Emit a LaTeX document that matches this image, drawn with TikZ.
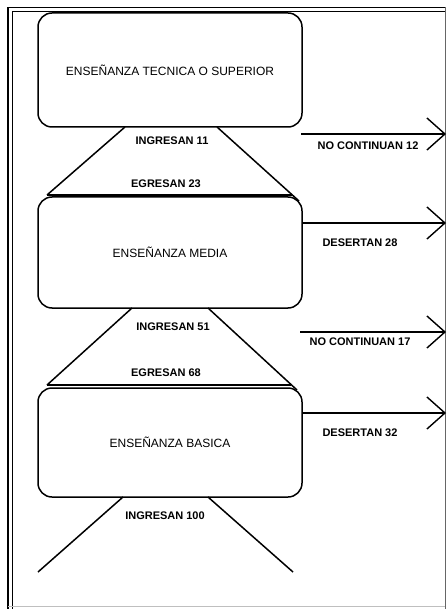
\documentclass[tikz,border=0pt]{standalone}
\usepackage{fontspec}
\setmainfont{Liberation Sans}
\usetikzlibrary{arrows.meta}
\begin{document}
\begin{tikzpicture}[x=1pt,y=-1pt,
  stagebox/.style={draw, rounded corners=14pt, minimum width=264pt, minimum height=#1, inner sep=0pt, line width=1.5pt, font=\fontsize{12}{14}\selectfont},
  lbl/.style={font=\bfseries\fontsize{11}{13}\selectfont, inner sep=0pt},
  trapline/.style={line width=1.5pt},
  flowarrow/.style={line width=1.4pt, -{Straight Barb[length=18pt,width=32pt,line width=1.4pt]}}]
\useasboundingbox (0,0) rectangle (447,609);
% frame
\draw[line width=1.5pt] (8,609) -- (8,7.5) -- (445,7.5);
\draw[line width=0.9pt] (12,609) -- (12,11.5) -- (445,11.5);
\draw[line width=0.8pt, black!60] (445,7.5) -- (445,609);
\draw[line width=0.5pt, black!25] (8,606) -- (445,606);
% boxes
\node[stagebox=114pt] (b1) at (170,70) {ENSEÑANZA TECNICA O SUPERIOR};
\node[stagebox=111pt] (b2) at (170,252.5) {ENSEÑANZA MEDIA};
\node[stagebox=109pt] (b3) at (170,442.5) {ENSEÑANZA BASICA};
% trapezoid coordinates
\coordinate (t1a) at (125,127); \coordinate (t1b) at (47,195);
\coordinate (t1c) at (217,127); \coordinate (t1d) at (299,201);
\coordinate (h1a) at (47,195); \coordinate (h1b) at (292,195);
\coordinate (t2a) at (132,308); \coordinate (t2b) at (47,385);
\coordinate (t2c) at (208,308); \coordinate (t2d) at (297,390);
\coordinate (h2a) at (47,385); \coordinate (h2b) at (291,385);
\coordinate (t3a) at (123,497); \coordinate (t3b) at (38,572);
\coordinate (t3c) at (208,497); \coordinate (t3d) at (293,572);
\draw[trapline] (t1a) -- (t1b);
\draw[trapline] (t1c) -- (t1d);
\draw[trapline] (h1a) -- (h1b);
\draw[trapline] (t2a) -- (t2b);
\draw[trapline] (t2c) -- (t2d);
\draw[trapline] (h2a) -- (h2b);
\draw[trapline] (t3a) -- (t3b);
\draw[trapline] (t3c) -- (t3d);
% arrows
\coordinate (a1s) at (301,134); \coordinate (a1e) at (446,134);
\coordinate (a2s) at (302,223); \coordinate (a2e) at (446,223);
\coordinate (a3s) at (300,332); \coordinate (a3e) at (446,332);
\coordinate (a4s) at (302,413); \coordinate (a4e) at (446,413);
\draw[flowarrow] (a1s) -- (a1e);
\draw[flowarrow] (a2s) -- (a2e);
\draw[flowarrow] (a3s) -- (a3e);
\draw[flowarrow] (a4s) -- (a4e);
% labels
\node[lbl] (l1) at (172,141) {INGRESAN 11};
\node[lbl] (l2) at (166,184) {EGRESAN 23};
\node[lbl] (l3) at (368,146) {NO CONTINUAN 12};
\node[lbl] (l4) at (360,243) {DESERTAN 28};
\node[lbl] (l5) at (173,327) {INGRESAN 51};
\node[lbl] (l6) at (360,342) {NO CONTINUAN 17};
\node[lbl] (l7) at (166,373) {EGRESAN 68};
\node[lbl] (l8) at (360,433) {DESERTAN 32};
\node[lbl] (l9) at (165,516) {INGRESAN 100};
\end{tikzpicture}
\end{document}
